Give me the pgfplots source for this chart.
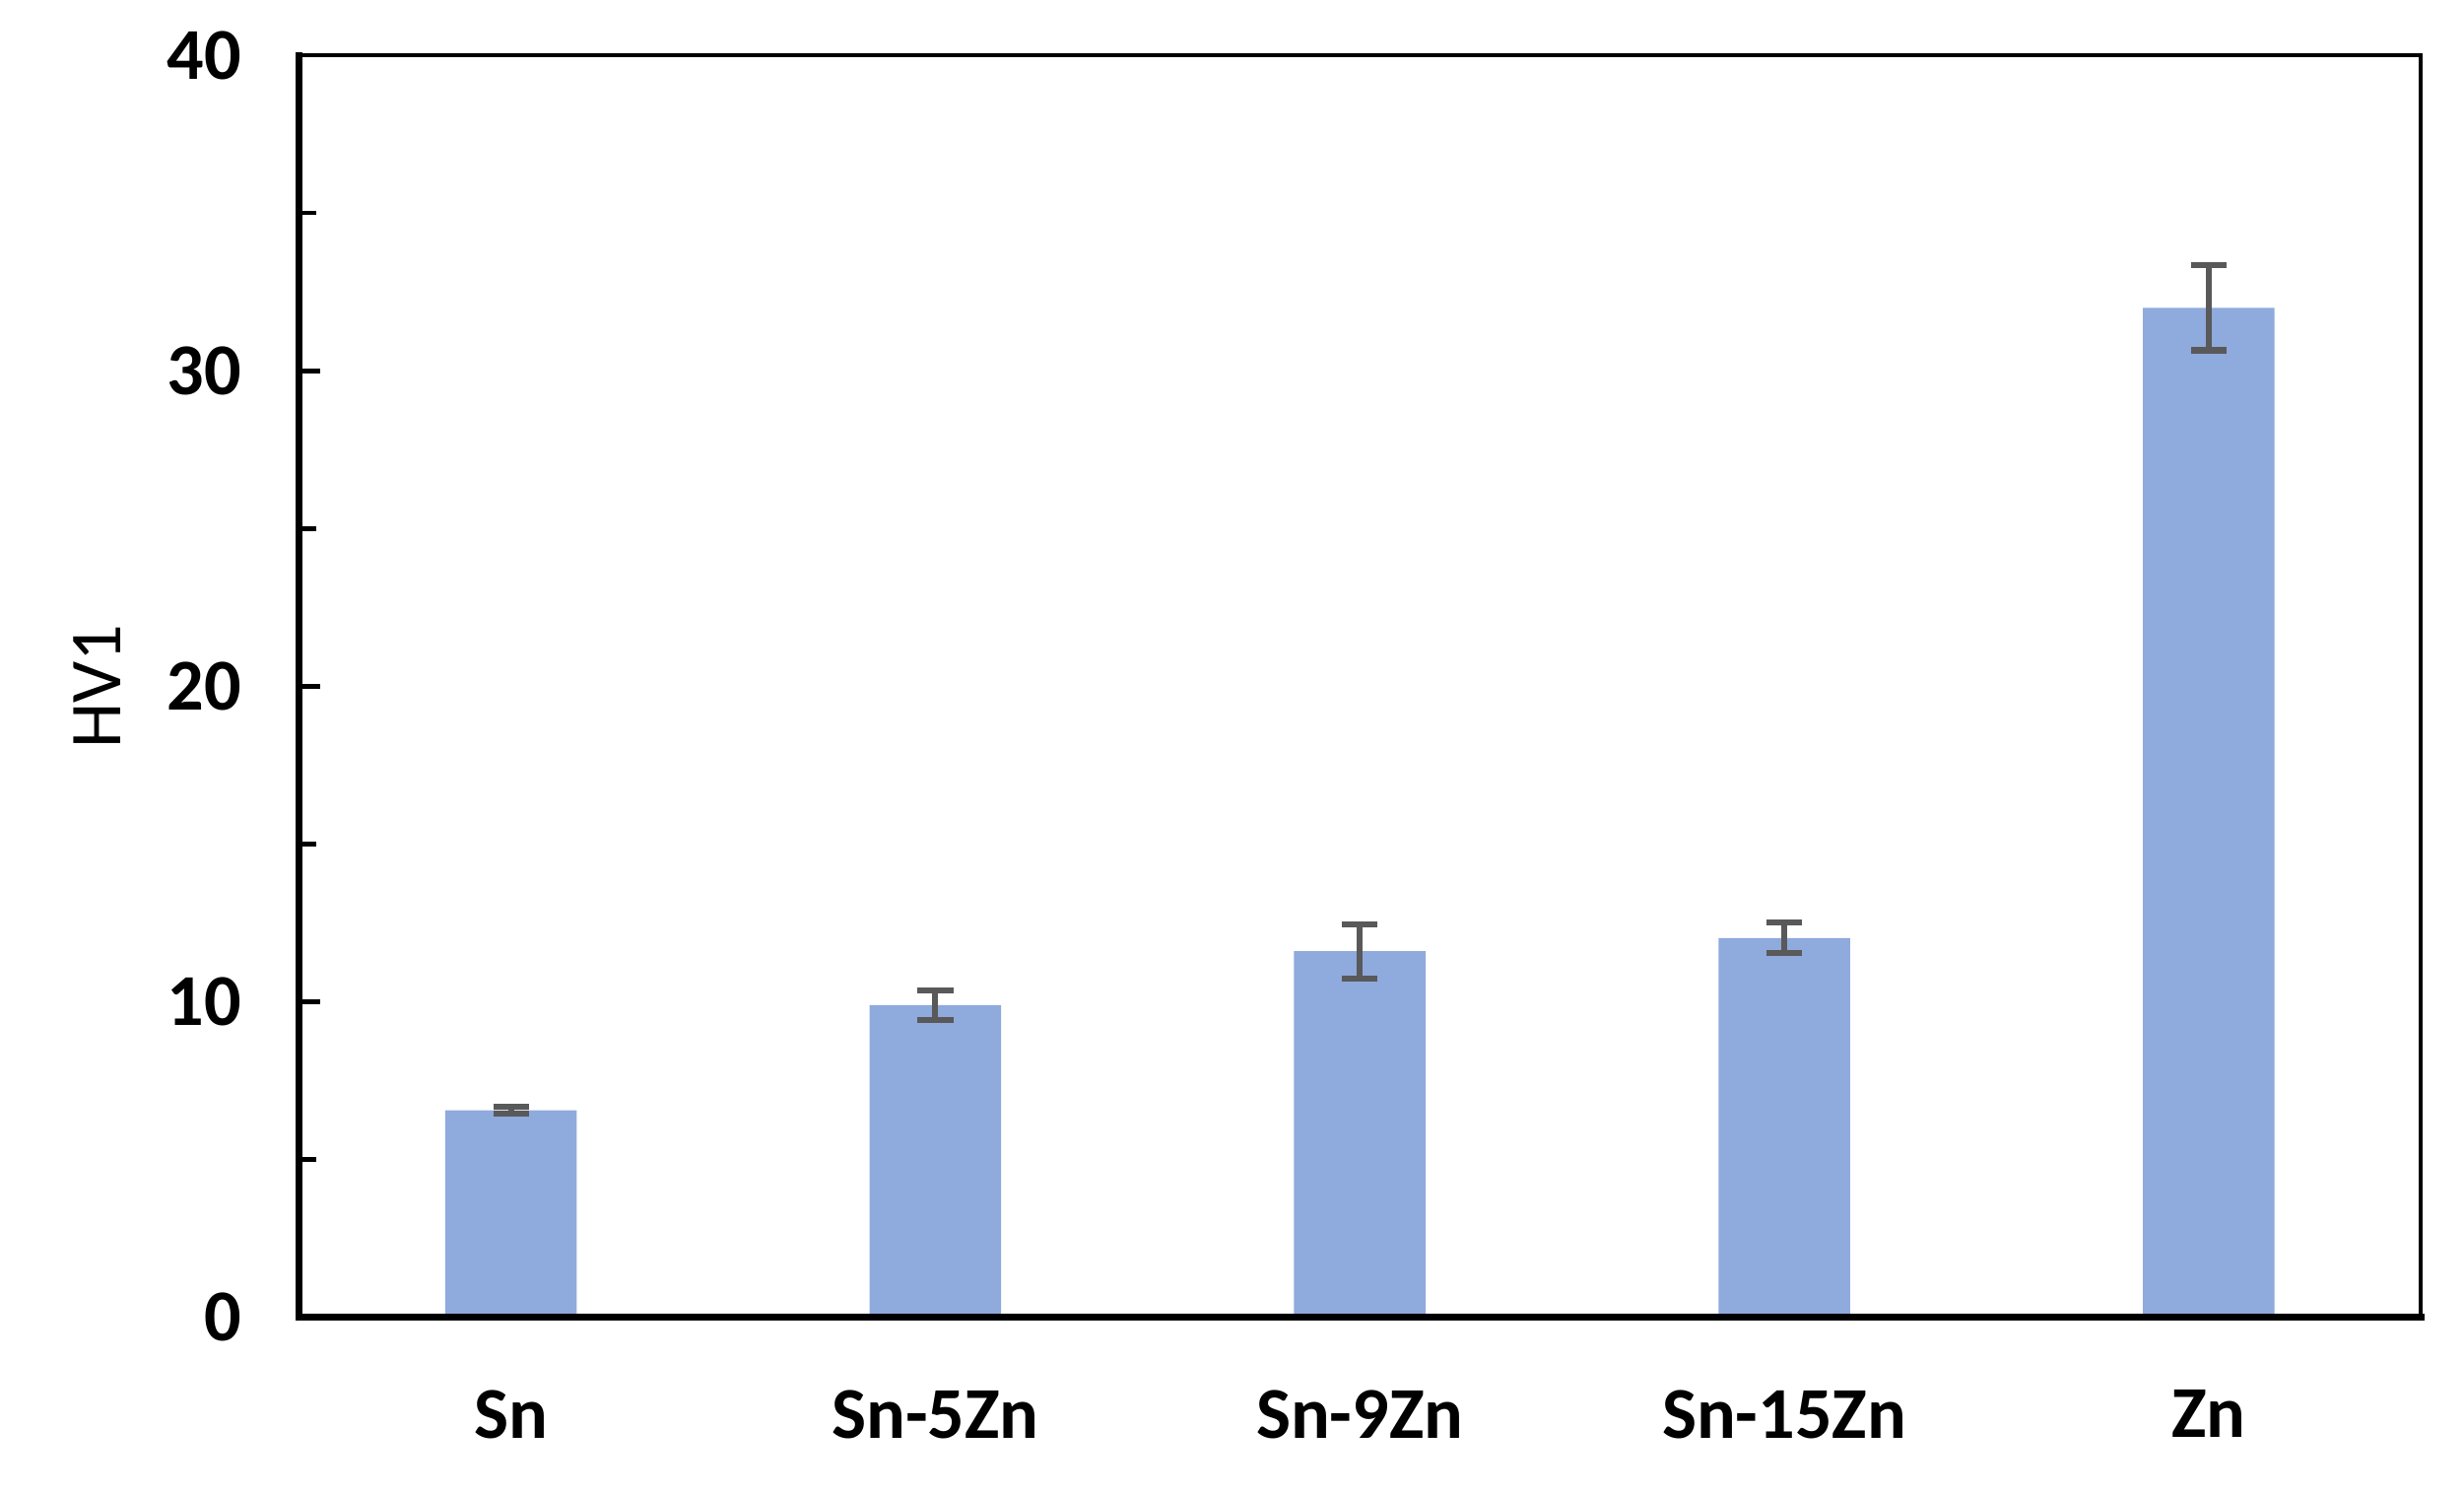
\documentclass[border=0pt]{standalone}
\usepackage{pgfplots}
\pgfplotsset{compat=1.18}
\usepackage{fontspec}
\setmainfont{Carlito}
\definecolor{barblue}{HTML}{8FAADC}
\definecolor{errgray}{HTML}{595959}
\begin{document}
\begin{tikzpicture}
\path[use as bounding box] (-1.94,-1.16) rectangle (14.06,8.55);
\begin{axis}[
  at={(0,0)}, anchor=south west,
  width=13.78cm, height=8.19cm, scale only axis,
  xmin=-0.5, xmax=4.5, ymin=0, ymax=40,
  xtick={0,1,2,3,4},
  xticklabels={Sn,Sn-5Zn,Sn-9Zn,Sn-15Zn,Zn},
  ytick={0,10,20,30,40},
  minor ytick={5,15,25,35},
  major x tick style={draw=none},
  tick align=inside,
  major tick length=0.14cm, minor tick length=0.115cm,
  tick style={black, line width=0.8pt},
  ytick pos=left,
  axis line style={line width=0.7pt},
  tick label style={font=\fontsize{13.5}{15}\selectfont\bfseries},
  /pgf/number format/assume math mode=true,
  xticklabel style={yshift=-0.35cm},
  yticklabel style={xshift=-0.25cm},
  ylabel={HV1},
  ylabel style={font=\fontsize{13.5}{15}\selectfont, at={(axis description cs:-0.095,0.5)}, anchor=center},
  clip=false,
]
\addplot[ybar, bar width=0.31, fill=barblue, draw=none,
  error bars/.cd, y dir=both, y explicit,
  error bar style={line width=1.1pt, errgray},
  error mark options={rotate=90, mark size=3.3pt, line width=1.1pt, errgray}]
  coordinates {
  (0,6.56) +- (0,0.1)
  (1,9.89) +- (0,0.48)
  (2,11.6) +- (0,0.86)
  (3,12.02) +- (0,0.48)
  (4,32.0) +- (0,1.35)
};
\draw[line width=1.3pt, line cap=rect] (rel axis cs:0,1) -- (rel axis cs:0,0) -- (rel axis cs:1,0);
\end{axis}
\end{tikzpicture}
\end{document}
